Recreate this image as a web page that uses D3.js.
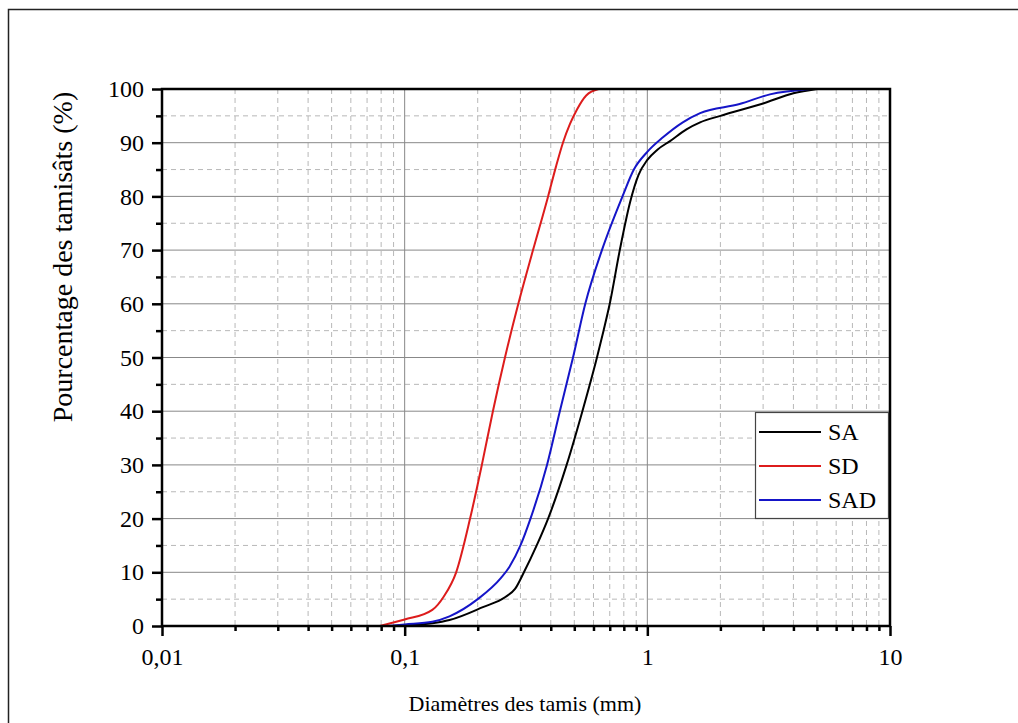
<!DOCTYPE html>
<html>
<head>
<meta charset="utf-8">
<script src="https://cdn.jsdelivr.net/npm/d3@7"></script>
<style>
  html, body { margin: 0; padding: 0; background: #fff; }
  svg { display: block; }
  text { font-family: "Liberation Serif", "Times New Roman", serif; fill: #000; }
</style>
</head>
<body>
<svg id="chart" width="1018" height="723"></svg>
<script>
// ---- Data (diameter in mm, passing in %) ----
const seriesNames = ["SA", "SD", "SAD"];
const seriesColors = ["#000000", "#dd1c1c", "#1515c8"];

const saSizes = [0.09, 0.1, 0.13, 0.153, 0.21, 0.26, 0.285, 0.31, 0.35, 0.39, 0.465, 0.54, 0.62, 0.66, 0.70, 0.77, 0.85, 0.92, 1.0, 1.1, 1.24, 1.45, 1.65, 2.0, 3.0, 4.0, 5.0];
const saPass  = [0, 0.1, 0.5, 1.1, 3.5, 5.4, 6.9, 10, 15, 20, 30, 40, 50, 55, 60, 70, 79, 84, 86.8, 88.7, 90.3, 92.5, 93.8, 95, 97.3, 99.2, 100];

const sdSizes = [0.079, 0.1, 0.13, 0.145, 0.163, 0.186, 0.208, 0.231, 0.259, 0.294, 0.338, 0.39, 0.42, 0.449, 0.48, 0.513, 0.56, 0.63];
const sdPass  = [0, 1.2, 3, 5.5, 10, 20, 30, 40, 50, 60, 70, 80, 85.5, 90, 93.5, 96.2, 98.8, 100];

const sadSizes = [0.085, 0.1, 0.13, 0.153, 0.2, 0.25, 0.27, 0.3, 0.33, 0.386, 0.436, 0.494, 0.555, 0.65, 0.79, 0.88, 1.0, 1.16, 1.4, 1.65, 2.4, 3.2, 4.7];
const sadPass  = [0, 0.3, 0.8, 1.8, 5, 9, 11, 15, 20, 30, 40, 50, 60, 70, 80, 85, 88.3, 91, 93.8, 95.5, 97.2, 99, 100];

const xTickValues = [0.01, 0.1, 1, 10];
const xTickLabels = ["0,01", "0,1", "1", "10"];
const yTickValues = [0, 10, 20, 30, 40, 50, 60, 70, 80, 90, 100];
const xLabel = "Diamètres des tamis (mm)";
const yLabel = "Pourcentage des tamisâts (%)";

// ---- Layout ----
const svg = d3.select("#chart");
const L = 162, R = 890, T = 89, B = 626;

const x = d3.scaleLog().domain([0.01, 10]).range([L, R]);
const y = d3.scaleLinear().domain([0, 100]).range([B, T]);

// outer frame
svg.append("rect").attr("x", 8.5).attr("y", 9.5).attr("width", 1030).attr("height", 730)
  .attr("fill", "none").attr("stroke", "#222").attr("stroke-width", 1.5);

// minor grid
const xMinor = [];
[0.01, 0.1, 1].forEach(d => { for (let k = 2; k <= 9; k++) xMinor.push(d * k); });
const yMinor = d3.range(5, 100, 10);

const grid = svg.append("g");
grid.selectAll(".xm").data(xMinor).join("line")
  .attr("x1", d => x(d)).attr("x2", d => x(d)).attr("y1", T).attr("y2", B)
  .attr("stroke", "#b8b8b8").attr("stroke-width", 1).attr("stroke-dasharray", "5,4");
grid.selectAll(".ym").data(yMinor).join("line")
  .attr("x1", L).attr("x2", R).attr("y1", d => y(d)).attr("y2", d => y(d))
  .attr("stroke", "#b8b8b8").attr("stroke-width", 1).attr("stroke-dasharray", "5,4");
// major grid
grid.selectAll(".xM").data(xTickValues.slice(1, -1)).join("line")
  .attr("x1", d => x(d)).attr("x2", d => x(d)).attr("y1", T).attr("y2", B)
  .attr("stroke", "#888").attr("stroke-width", 1);
grid.selectAll(".yM").data(yTickValues.slice(1, -1)).join("line")
  .attr("x1", L).attr("x2", R).attr("y1", d => y(d)).attr("y2", d => y(d))
  .attr("stroke", "#888").attr("stroke-width", 1);

// curves
const line = d3.line().x(d => x(d[0])).y(d => y(d[1])).curve(d3.curveMonotoneX);
const allSeries = [
  d3.zip(saSizes, saPass),
  d3.zip(sdSizes, sdPass),
  d3.zip(sadSizes, sadPass)
];
allSeries.forEach((s, i) => {
  svg.append("path").datum(s).attr("d", line)
    .attr("fill", "none").attr("stroke", seriesColors[i]).attr("stroke-width", 2);
});

// axes
const xAxis = svg.append("g").attr("transform", `translate(0,${B})`)
  .call(d3.axisBottom(x).tickValues(xTickValues).tickFormat((d, i) => xTickLabels[i]).tickSize(10).tickPadding(12));
const xAxisMinor = svg.append("g").attr("transform", `translate(0,${B})`)
  .call(d3.axisBottom(x).tickValues(xMinor).tickFormat("").tickSize(5));
const yAxis = svg.append("g").attr("transform", `translate(${L},0)`)
  .call(d3.axisLeft(y).tickValues(yTickValues).tickSize(10).tickPadding(8));
const yAxisMinor = svg.append("g").attr("transform", `translate(${L},0)`)
  .call(d3.axisLeft(y).tickValues(yMinor).tickFormat("").tickSize(6));

[xAxis, xAxisMinor, yAxis, yAxisMinor].forEach(g => {
  g.select(".domain").remove();
  g.selectAll(".tick line").attr("stroke", "#000").attr("stroke-width", 2.5);
  g.selectAll("text").attr("font-size", 24).attr("font-family", "Liberation Serif");
});

// plot border (thick)
svg.append("rect").attr("x", L).attr("y", T).attr("width", R - L).attr("height", B - T)
  .attr("fill", "none").attr("stroke", "#000").attr("stroke-width", 2.5);

// axis titles
svg.append("text").attr("x", (L + R) / 2 - 1).attr("y", 711).attr("text-anchor", "middle")
  .attr("font-size", 22).text(xLabel);
svg.append("text").attr("transform", `translate(72,257) rotate(-90)`)
  .attr("text-anchor", "middle").attr("font-size", 28).text(yLabel);

// legend
const lg = svg.append("g");
lg.append("rect").attr("x", 755.5).attr("y", 412.5).attr("width", 133).attr("height", 106)
  .attr("fill", "#fff").attr("stroke", "#444").attr("stroke-width", 1.2);
seriesNames.forEach((n, i) => {
  const cy = 432 + i * 34;
  lg.append("line").attr("x1", 759).attr("x2", 821).attr("y1", cy).attr("y2", cy)
    .attr("stroke", seriesColors[i]).attr("stroke-width", 2);
  lg.append("text").attr("x", 828).attr("y", cy + 8).attr("font-size", 24).text(n);
});
</script>
</body>
</html>
